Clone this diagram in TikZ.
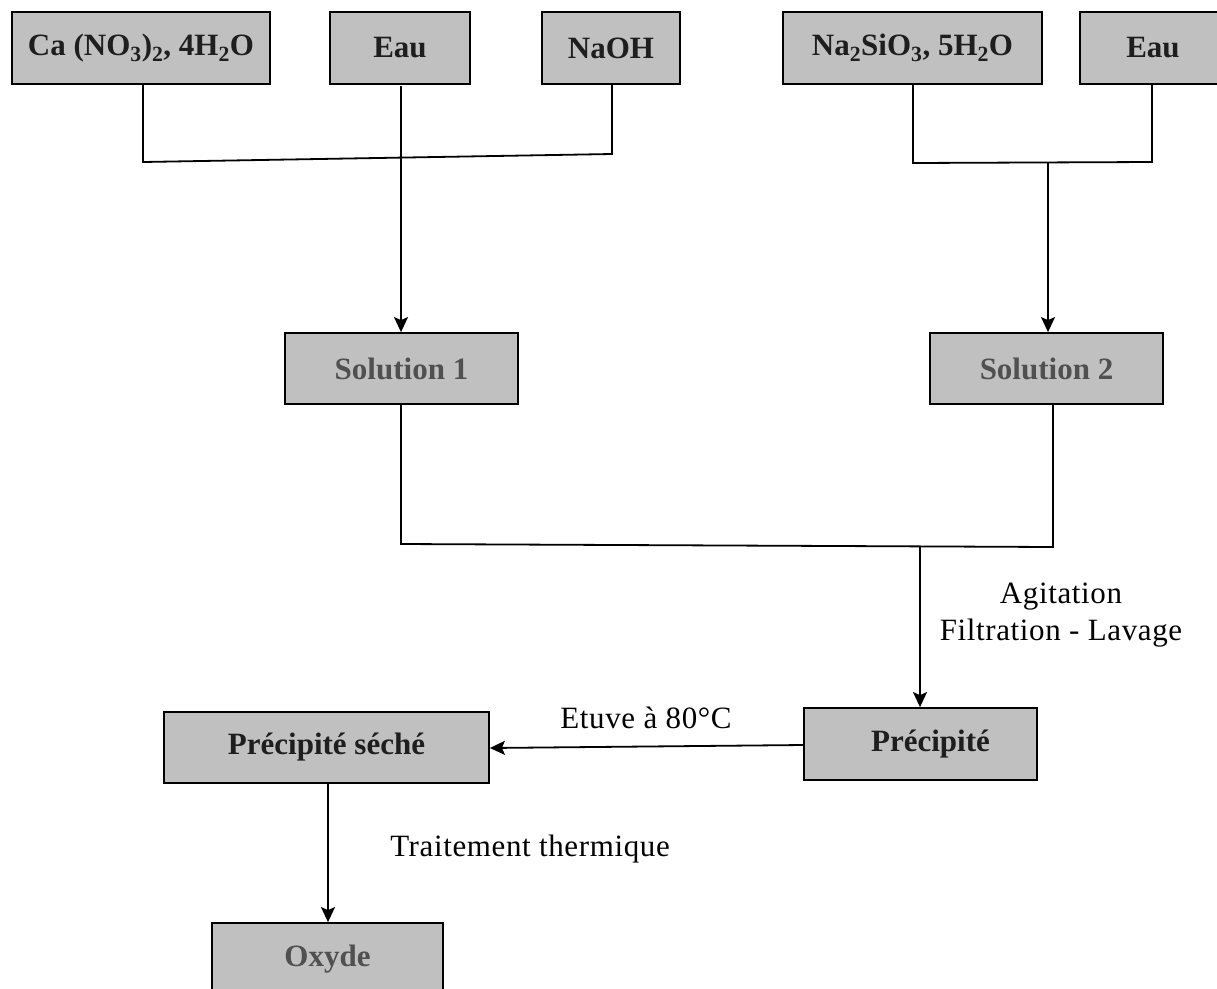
\documentclass[tikz,border=0pt]{standalone}
\usepackage{fontspec}
\setmainfont{Liberation Serif}
\newfontfamily\lblfont[LetterSpace=2]{Liberation Serif}
\usetikzlibrary{arrows.meta}
\definecolor{boxfill}{HTML}{C0C0C0}
\definecolor{darktxt}{HTML}{1E1E1E}
\definecolor{graytxt}{HTML}{505050}
\tikzset{
  procbox/.style={draw=black, line width=1.8pt, fill=boxfill, inner sep=0pt,
    minimum height=72pt, text=darktxt, font=\fontsize{31}{37}\selectfont\bfseries},
  graybox/.style={procbox, text=graytxt},
  conn/.style={line width=1.8pt, draw=black},
  arr/.style={conn, -{Stealth[length=15pt,width=14pt,inset=3pt]}},
  lbl/.style={font=\lblfont\fontsize{31}{37}\selectfont, text=black, inner sep=0pt, align=center}
}
\begin{document}
\begin{tikzpicture}[x=1pt,y=-1pt]
\useasboundingbox (0,0) rectangle (1217,988);
% top boxes
\node[procbox, minimum width=258pt] (ca) at (141,48) {Ca (NO\textsubscript{3})\textsubscript{2}, 4H\textsubscript{2}O};
\node[procbox, minimum width=140pt] (eau1) at (400,48) {Eau};
\node[procbox, minimum width=138pt] (naoh) at (611,48) {NaOH};
\node[procbox, minimum width=259pt] (nasi) at (912.5,48) {Na\textsubscript{2}SiO\textsubscript{3}, 5H\textsubscript{2}O};
\node[procbox, minimum width=146pt] (eau2) at (1153,48) {Eau};
% middle
\node[graybox, minimum width=233pt, minimum height=71pt] (sol1) at (401.5,368.5) {Solution 1};
\node[graybox, minimum width=233pt, minimum height=71pt] (sol2) at (1046.5,368.5) {Solution 2};
\node[procbox, minimum width=233pt] (prec) at (920.5,744) {\hspace*{20pt}Précipité};
\node[procbox, minimum width=325pt, minimum height=71pt] (sech) at (326.5,747.5) {Précipité séché};
\node[graybox, minimum width=231pt] (oxy) at (327.5,959) {Oxyde};
% labels
\node[lbl] (l1) at (1061,615) {Agitation\\Filtration - Lavage};
\node[lbl] (l2) at (646,718) {Etuve à 80°C};
\node[lbl] (l3) at (530,849) {Traitement thermique};
% coordinates
\coordinate (j1) at (143,162);
\coordinate (j2) at (612,154);
\coordinate (j3) at (913,163);
\coordinate (j4) at (1152,162);
\coordinate (j5) at (1048,163);
\coordinate (j6) at (401,544);
\coordinate (j7) at (1053,547);
\coordinate (j8) at (920,546);
% top-left group
\draw[conn] (ca.south -| j1) -- (j1) -- (j2) -- (naoh.south -| j2);
\draw[arr] (401,86) -- (sol1.north -| 401,0);
% top-right group
\draw[conn] (nasi.south -| j3) -- (j3) -- (j4) -- (eau2.south -| j4);
\draw[arr] (j5) -- (sol2.north -| j5);
% merge
\draw[conn] (sol1.south -| j6) -- (j6) -- (j7) -- (sol2.south -| j7);
\draw[arr] (j8) -- (prec.north -| j8);
% bottom
\draw[arr] (prec.west |- 0,745) -- (sech.east |- 0,748);
\draw[arr] (sech.south -| 328,0) -- (oxy.north -| 328,0);
\end{tikzpicture}
\end{document}
